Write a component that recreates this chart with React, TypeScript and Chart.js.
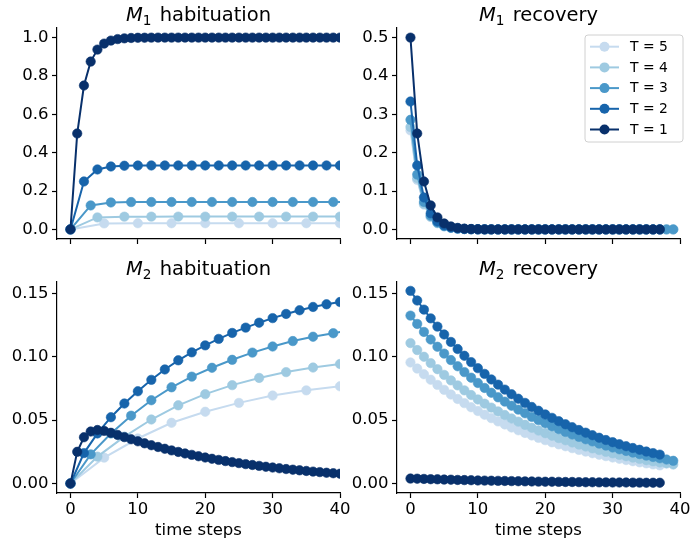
import React, { useEffect, useRef } from 'react';
import { Chart, registerables } from 'chart.js';

Chart.register(...registerables);

const FONT_FAMILY = '"DejaVu Sans", "Liberation Sans", sans-serif';

// Stimulus periods and their colours (Blues colormap, darkest for T = 1)
const periods = [1, 2, 3, 4, 5];
const periodColors = ['#08306b', '#1764ab', '#4a98c9', '#9ecae1', '#c6dbef'];

// Tick positions
const timeTicks = [0, 10, 20, 30, 40];
const m1HabTicks = [0, 0.2, 0.4, 0.6, 0.8, 1.0];
const m1RecTicks = [0, 0.1, 0.2, 0.3, 0.4, 0.5];
const m2Ticks = [0, 0.05, 0.1, 0.15];

// M1 during habituation: one value per stimulus, stimuli every T steps
const m1HabT1 = [0, 0.5, 0.75, 0.875, 0.9375, 0.9688, 0.9844, 0.9922, 0.9961, 0.998, 0.999, 0.9995, 0.9998, 0.9999, 0.9999,
  1, 1, 1, 1, 1, 1, 1, 1, 1, 1, 1, 1, 1, 1, 1, 1, 1, 1, 1, 1, 1, 1, 1, 1, 1, 1];
const m1HabT2 = [0, 0.25, 0.3125, 0.3281, 0.332, 0.333, 0.3333, 0.3333, 0.3333, 0.3333, 0.3333, 0.3333, 0.3333, 0.3333,
  0.3333, 0.3333, 0.3333, 0.3333, 0.3333, 0.3333, 0.3333];
const m1HabT3 = [0, 0.125, 0.1406, 0.1426, 0.1428, 0.1429, 0.1429, 0.1429, 0.1429, 0.1429, 0.1429, 0.1429, 0.1429, 0.1429, 0.1429];
const m1HabT4 = [0, 0.0625, 0.0664, 0.0666, 0.0667, 0.0667, 0.0667, 0.0667, 0.0667, 0.0667, 0.0667];
const m1HabT5 = [0, 0.0313, 0.0322, 0.0323, 0.0323, 0.0323, 0.0323, 0.0323, 0.0323];

// M1 during recovery: one value per time step
const m1RecT1 = [0.5, 0.25, 0.125, 0.0625, 0.0313, 0.0156, 0.0078, 0.0039, 0.002, 0.001, 0.0005, 0.0002, 0.0001,
  0, 0, 0, 0, 0, 0, 0, 0, 0, 0, 0, 0, 0, 0, 0, 0, 0, 0, 0, 0, 0, 0, 0, 0, 0];
const m1RecT2 = [0.3333, 0.1667, 0.0833, 0.0417, 0.0208, 0.0104, 0.0052, 0.0026, 0.0013, 0.0007, 0.0003, 0.0002, 0.0001,
  0, 0, 0, 0, 0, 0, 0, 0, 0, 0, 0, 0, 0, 0, 0, 0, 0, 0, 0, 0, 0, 0, 0, 0, 0];
const m1RecT3 = [0.2857, 0.1429, 0.0714, 0.0357, 0.0179, 0.0089, 0.0045, 0.0022, 0.0011, 0.0006, 0.0003, 0.0001,
  0, 0, 0, 0, 0, 0, 0, 0, 0, 0, 0, 0, 0, 0, 0, 0, 0, 0, 0, 0, 0, 0, 0, 0, 0, 0, 0, 0];
const m1RecT4 = [0.2667, 0.1333, 0.0667, 0.0333, 0.0167, 0.0083, 0.0042, 0.0021, 0.001, 0.0005, 0.0003, 0.0001,
  0, 0, 0, 0, 0, 0, 0, 0, 0, 0, 0, 0, 0, 0, 0, 0, 0, 0, 0, 0, 0, 0, 0, 0, 0, 0, 0, 0];
const m1RecT5 = [0.2581, 0.129, 0.0645, 0.0323, 0.0161, 0.0081, 0.004, 0.002, 0.001, 0.0005, 0.0003, 0.0001,
  0, 0, 0, 0, 0, 0, 0, 0, 0, 0, 0, 0, 0, 0, 0, 0, 0, 0, 0, 0, 0, 0, 0, 0, 0, 0];

// M2 during habituation: one value per stimulus, stimuli every T steps
const m2HabT1 = [0, 0.025, 0.0365, 0.041, 0.0422, 0.0415, 0.04, 0.0383, 0.0366, 0.0349, 0.0333, 0.0317, 0.0302, 0.0288,
  0.0274, 0.0261, 0.0249, 0.0237, 0.0226, 0.0215, 0.0205, 0.0195, 0.0186, 0.0177, 0.0169, 0.0161, 0.0153, 0.0146,
  0.0139, 0.0132, 0.0126, 0.012, 0.0114, 0.0109, 0.0104, 0.0099, 0.0094, 0.009, 0.0085, 0.0081, 0.0077];
const m2HabT2 = [0, 0.024, 0.0395, 0.0523, 0.0631, 0.0728, 0.0818, 0.09, 0.0972, 0.1035, 0.109, 0.1141, 0.1188, 0.123,
  0.1269, 0.1305, 0.1338, 0.1367, 0.1393, 0.1414, 0.1432];
const m2HabT3 = [0, 0.023, 0.0395, 0.0535, 0.0657, 0.0759, 0.0843, 0.0913, 0.0976, 0.1033, 0.1081, 0.1124, 0.1158, 0.1186, 0.1212];
const m2HabT4 = [0, 0.0212, 0.037, 0.0505, 0.0617, 0.0705, 0.0776, 0.0833, 0.0879, 0.0915, 0.0943];
const m2HabT5 = [0, 0.0204, 0.0355, 0.0479, 0.0566, 0.0636, 0.0694, 0.0735, 0.0767];

// M2 during recovery: one value per time step
const m2RecT1 = [0.0039, 0.0038, 0.0036, 0.0034, 0.0033, 0.0031, 0.003, 0.0028, 0.0027, 0.0026, 0.0024, 0.0023, 0.0022,
  0.0021, 0.002, 0.0019, 0.0018, 0.0017, 0.0016, 0.0015, 0.0014, 0.0014, 0.0013, 0.0012, 0.0012, 0.0011, 0.001, 0.001,
  0.0009, 0.0009, 0.0008, 0.0008, 0.0008, 0.0007, 0.0007, 0.0006, 0.0006, 0.0006];
const m2RecT2 = [0.152, 0.1444, 0.1372, 0.1303, 0.1238, 0.1176, 0.1117, 0.1061, 0.1008, 0.0958, 0.091, 0.0865, 0.0821,
  0.078, 0.0741, 0.0704, 0.0669, 0.0636, 0.0604, 0.0574, 0.0545, 0.0518, 0.0492, 0.0467, 0.0444, 0.0422, 0.0401, 0.0381,
  0.0361, 0.0343, 0.0326, 0.031, 0.0294, 0.028, 0.0266, 0.0252, 0.024, 0.0228];
const m2RecT3 = [0.1325, 0.1259, 0.1196, 0.1136, 0.1079, 0.1025, 0.0974, 0.0925, 0.0879, 0.0835, 0.0793, 0.0754, 0.0716,
  0.068, 0.0646, 0.0614, 0.0583, 0.0554, 0.0526, 0.05, 0.0475, 0.0451, 0.0429, 0.0407, 0.0387, 0.0368, 0.0349, 0.0332,
  0.0315, 0.0299, 0.0284, 0.027, 0.0257, 0.0244, 0.0232, 0.022, 0.0209, 0.0199, 0.0189, 0.0179];
const m2RecT4 = [0.1108, 0.1053, 0.1, 0.095, 0.0902, 0.0857, 0.0814, 0.0774, 0.0735, 0.0698, 0.0663, 0.063, 0.0599,
  0.0569, 0.054, 0.0513, 0.0488, 0.0463, 0.044, 0.0418, 0.0397, 0.0377, 0.0358, 0.0341, 0.0324, 0.0307, 0.0292, 0.0277,
  0.0264, 0.025, 0.0238, 0.0226, 0.0215, 0.0204, 0.0194, 0.0184, 0.0175, 0.0166, 0.0158, 0.015];
const m2RecT5 = [0.0955, 0.0907, 0.0862, 0.0819, 0.0778, 0.0739, 0.0702, 0.0667, 0.0634, 0.0602, 0.0572, 0.0543, 0.0516,
  0.049, 0.0466, 0.0442, 0.042, 0.0399, 0.0379, 0.036, 0.0342, 0.0325, 0.0309, 0.0294, 0.0279, 0.0265, 0.0252, 0.0239,
  0.0227, 0.0216, 0.0205, 0.0195, 0.0185, 0.0176, 0.0167, 0.0159, 0.0151, 0.0143];

type PanelSpec = {
  box: { x: number; y: number; w: number; h: number };
  pad: { top: number; right: number };
  xAxisHeight: number;
  title: { symbol: string; index: string; text: string };
  series: number[][];
  stepIsPeriod: boolean;
  yRange: [number, number];
  yTicks: number[];
  decimals: number;
  xLabels: boolean;
  legend: boolean;
};

const panels: PanelSpec[] = [
  {
    box: { x: 0, y: 0, w: 352, h: 262 }, pad: { top: 28, right: 12 }, xAxisHeight: 23,
    title: { symbol: 'M', index: '1', text: ' habituation' },
    series: [m1HabT1, m1HabT2, m1HabT3, m1HabT4, m1HabT5], stepIsPeriod: true,
    yRange: [-0.05, 1.05], yTicks: m1HabTicks, decimals: 1, xLabels: false, legend: false,
  },
  {
    box: { x: 340, y: 0, w: 352, h: 262 }, pad: { top: 28, right: 12 }, xAxisHeight: 23,
    title: { symbol: 'M', index: '1', text: ' recovery' },
    series: [m1RecT1, m1RecT2, m1RecT3, m1RecT4, m1RecT5], stepIsPeriod: false,
    yRange: [-0.025, 0.525], yTicks: m1RecTicks, decimals: 1, xLabels: false, legend: true,
  },
  {
    box: { x: 0, y: 248, w: 352, h: 297 }, pad: { top: 34, right: 12 }, xAxisHeight: 52,
    title: { symbol: 'M', index: '2', text: ' habituation' },
    series: [m2HabT1, m2HabT2, m2HabT3, m2HabT4, m2HabT5], stepIsPeriod: true,
    yRange: [-0.0075, 0.159], yTicks: m2Ticks, decimals: 2, xLabels: true, legend: false,
  },
  {
    box: { x: 340, y: 248, w: 352, h: 297 }, pad: { top: 34, right: 12 }, xAxisHeight: 52,
    title: { symbol: 'M', index: '2', text: ' recovery' },
    series: [m2RecT1, m2RecT2, m2RecT3, m2RecT4, m2RecT5], stepIsPeriod: false,
    yRange: [-0.0075, 0.159], yTicks: m2Ticks, decimals: 2, xLabels: true, legend: false,
  },
];

// Title with an italic symbol and a subscript index, centred over the plot area
const panelTitlePlugin = {
  id: 'panelTitle',
  afterDraw(chart: any, _args: any, opts: any) {
    const { ctx, chartArea } = chart;
    const size = 19.5;
    const fonts = [`italic ${size}px ${FONT_FAMILY}`, `${size * 0.7}px ${FONT_FAMILY}`, `${size}px ${FONT_FAMILY}`];
    const parts = [opts.symbol, opts.index, opts.text];
    ctx.save();
    const widths = parts.map((p: string, i: number) => { ctx.font = fonts[i]; return ctx.measureText(p).width; });
    widths[1] += 2;
    const total = widths.reduce((a: number, b: number) => a + b, 0);
    let x = (chartArea.left + chartArea.right) / 2 - total / 2;
    const y = chartArea.top - 7.5;
    ctx.fillStyle = '#000';
    ctx.textBaseline = 'alphabetic';
    ctx.textAlign = 'left';
    parts.forEach((p: string, i: number) => {
      ctx.font = fonts[i];
      ctx.fillText(p, x, i === 1 ? y + size * 0.22 : y);
      x += widths[i];
    });
    ctx.restore();
  },
};

// Boxed legend in the upper right of the plot area, line sample with a marker
const periodLegendPlugin = {
  id: 'periodLegend',
  afterDraw(chart: any, _args: any, opts: any) {
    if (!opts.show) return;
    const { ctx, chartArea } = chart;
    const w = 98;
    const h = 107;
    const left = chartArea.right + 3 - w;
    const top = chartArea.top + 7;
    ctx.save();
    ctx.beginPath();
    ctx.roundRect(left, top, w, h, 3);
    ctx.fillStyle = 'rgba(255,255,255,0.8)';
    ctx.fill();
    ctx.strokeStyle = '#d0d0d0';
    ctx.lineWidth = 1;
    ctx.stroke();
    const sets = [...chart.data.datasets].reverse();
    ctx.font = `13.9px ${FONT_FAMILY}`;
    ctx.textBaseline = 'middle';
    ctx.textAlign = 'left';
    sets.forEach((ds: any, i: number) => {
      const cy = top + 11.7 + i * 20.7;
      ctx.strokeStyle = ds.borderColor;
      ctx.lineWidth = 2;
      ctx.beginPath();
      ctx.moveTo(left + 5, cy);
      ctx.lineTo(left + 34, cy);
      ctx.stroke();
      ctx.fillStyle = ds.borderColor;
      ctx.beginPath();
      ctx.arc(left + 19.5, cy, 5, 0, Math.PI * 2);
      ctx.fill();
      ctx.fillStyle = '#000';
      ctx.fillText(ds.label, left + 45, cy + 0.5);
    });
    ctx.restore();
  },
};

function buildConfig(p: PanelSpec): any {
  const tickFont = { family: FONT_FAMILY, size: 16.5 };
  const axisGrid = { display: true, drawOnChartArea: false, drawTicks: true, tickLength: 5, tickWidth: 1.2, tickColor: '#000' };
  const axisBorder = { display: true, color: '#000', width: 1.2 };
  return {
    type: 'line',
    data: {
      datasets: periods.map((T, i) => ({
        label: `T = ${T}`,
        data: p.series[i].map((v, k) => ({ x: k * (p.stepIsPeriod ? T : 1), y: v })),
        borderColor: periodColors[i],
        backgroundColor: periodColors[i],
        pointBackgroundColor: periodColors[i],
        pointBorderColor: periodColors[i],
        borderWidth: 2,
        pointRadius: 4.7,
        pointBorderWidth: 0.6,
        tension: 0,
      })),
    },
    options: {
      responsive: false,
      animation: false,
      events: [],
      layout: { padding: { top: p.pad.top, right: p.pad.right, bottom: 0, left: 0 } },
      plugins: {
        legend: { display: false },
        tooltip: { enabled: false },
        title: { display: false },
        panelTitle: p.title,
        periodLegend: { show: p.legend },
      },
      scales: {
        x: {
          type: 'linear',
          min: -2,
          max: 40,
          afterBuildTicks: (s: any) => { s.ticks = timeTicks.map((v) => ({ value: v })); },
          afterFit: (s: any) => { s.height = p.xAxisHeight; },
          grid: axisGrid,
          border: axisBorder,
          ticks: {
            display: p.xLabels,
            color: '#000',
            font: tickFont,
            padding: 1.5,
            maxRotation: 0,
            autoSkip: false,
            callback: (v: any) => String(v),
          },
          title: {
            display: p.xLabels,
            text: 'time steps',
            color: '#000',
            font: tickFont,
            padding: { top: 0, bottom: 4.3 },
          },
        },
        y: {
          type: 'linear',
          min: p.yRange[0],
          max: p.yRange[1],
          afterBuildTicks: (s: any) => { s.ticks = p.yTicks.map((v) => ({ value: v })); },
          afterFit: (s: any) => { s.width = 57; },
          grid: axisGrid,
          border: axisBorder,
          ticks: {
            color: '#000',
            font: tickFont,
            padding: 3.5,
            autoSkip: false,
            callback: (v: any) => Number(v).toFixed(p.decimals),
          },
        },
      },
    },
    plugins: [panelTitlePlugin, periodLegendPlugin],
  };
}

function PanelChart({ spec }: { spec: PanelSpec }) {
  const ref = useRef<HTMLCanvasElement>(null);
  useEffect(() => {
    if (!ref.current) return;
    const chart = new Chart(ref.current, buildConfig(spec));
    return () => chart.destroy();
  }, [spec]);
  const { x, y, w, h } = spec.box;
  return (
    <canvas
      ref={ref}
      width={w}
      height={h}
      style={{ position: 'absolute', left: x, top: y, width: w, height: h }}
    />
  );
}

export default function App() {
  return (
    <div style={{ position: 'absolute', left: 0, top: 0, width: 692, height: 545, background: '#fff', overflow: 'hidden' }}>
      {panels.map((spec, i) => (
        <PanelChart key={i} spec={spec} />
      ))}
    </div>
  );
}
